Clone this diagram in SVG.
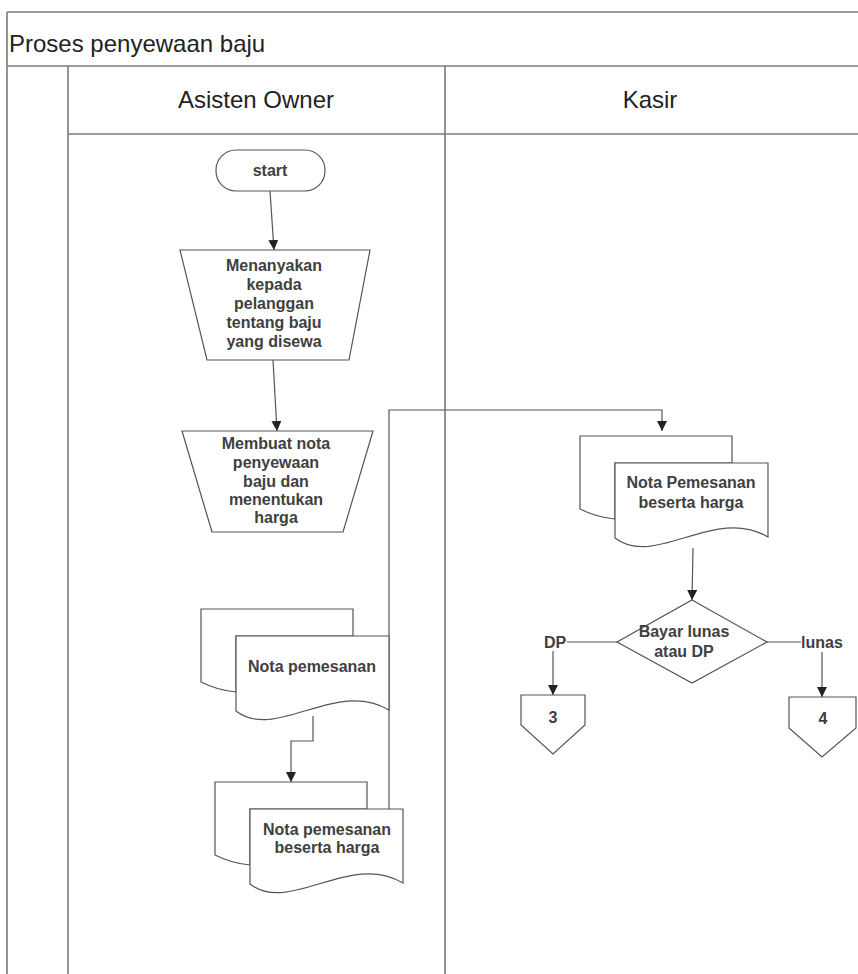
<svg xmlns="http://www.w3.org/2000/svg" xmlns:xlink="http://www.w3.org/1999/xlink" width="858" height="974" viewBox="0 0 858 974">
<style>
.frame{stroke:#7a7a7a;stroke-width:1.6;fill:none}
.shape{stroke:#555;stroke-width:1.2;fill:#fff}
.conn{stroke:#555;stroke-width:1.2;fill:none}
.t{font-family:"Liberation Sans",Arial,sans-serif;font-size:16px;font-weight:bold;fill:#404040;text-anchor:middle}
.h{font-family:"Liberation Sans",Arial,sans-serif;font-size:24px;fill:#222}
</style>
<defs>
<marker id="arr" viewBox="0 0 10 10" refX="10" refY="5" markerWidth="10" markerHeight="10" markerUnits="userSpaceOnUse" orient="auto">
<path d="M0,0 L10,5 L0,10 Z" fill="#222"/>
</marker>
<path id="docBack" d="M-35,-27 H117 V0 H0 V56 C-12,55 -25,51 -35,46 Z"/>
<path id="docFront" d="M0,0 H153 V74 C100,42 40,106 0,75 Z"/>
</defs>
<rect width="858" height="974" fill="#fff"/>

<g id="frame">
<line class="frame" x1="7" y1="12" x2="858" y2="12"/>
<line class="frame" x1="7" y1="12" x2="7" y2="974"/>
<line class="frame" x1="7" y1="66" x2="858" y2="66"/>
<line class="frame" x1="68" y1="66" x2="68" y2="974"/>
<line class="frame" x1="68" y1="134" x2="858" y2="134"/>
<line class="frame" x1="445" y1="66" x2="445" y2="974"/>
<text class="h" x="9" y="52">Proses penyewaan baju</text>
<text class="h" x="256" y="108" text-anchor="middle">Asisten Owner</text>
<text class="h" x="650" y="108" text-anchor="middle">Kasir</text>
</g>

<g id="connectors">
<line class="conn" x1="270" y1="191" x2="274" y2="250" marker-end="url(#arr)"/>
<line class="conn" x1="273" y1="360" x2="277" y2="431" marker-end="url(#arr)"/>
<polyline class="conn" points="313,716 313,741 291,741 291,782" marker-end="url(#arr)"/>
<polyline class="conn" points="389,809 389,410 662,410 662,431" marker-end="url(#arr)"/>
<line class="conn" x1="693" y1="548" x2="692" y2="600" marker-end="url(#arr)"/>
<line class="conn" x1="617" y1="642" x2="567" y2="642"/>
<line class="conn" x1="553" y1="651" x2="553" y2="695" marker-end="url(#arr)"/>
<line class="conn" x1="767" y1="642" x2="801" y2="642"/>
<line class="conn" x1="822" y1="652" x2="822" y2="697" marker-end="url(#arr)"/>
<text class="t" x="555" y="648">DP</text>
<text class="t" x="822" y="648">lunas</text>
</g>

<g id="start">
<rect class="shape" x="216" y="150" width="109" height="41" rx="20" ry="20"/>
<text class="t" x="270" y="176">start</text>
</g>

<g id="tanya">
<polygon class="shape" points="180,250 370,250 349,360 207,360"/>
<text class="t" x="274" y="271">Menanyakan</text>
<text class="t" x="274" y="290">kepada</text>
<text class="t" x="274" y="309">pelanggan</text>
<text class="t" x="274" y="328">tentang baju</text>
<text class="t" x="274" y="347">yang disewa</text>
</g>

<g id="buatnota">
<polygon class="shape" points="182,431 373,431 343,532 212,532"/>
<text class="t" x="276" y="449">Membuat nota</text>
<text class="t" x="276" y="468">penyewaan</text>
<text class="t" x="276" y="487">baju dan</text>
<text class="t" x="276" y="505">menentukan</text>
<text class="t" x="276" y="523">harga</text>
</g>

<g id="notapemesanan">
<use xlink:href="#docBack" class="shape" transform="translate(236,636)"/>
<use xlink:href="#docFront" class="shape" transform="translate(236,636)"/>
<text class="t" x="312" y="672">Nota pemesanan</text>
</g>

<g id="notaharga">
<use xlink:href="#docBack" class="shape" transform="translate(250,809)"/>
<use xlink:href="#docFront" class="shape" transform="translate(250,809)"/>
<text class="t" x="327" y="835">Nota pemesanan</text>
<text class="t" x="327" y="853">beserta harga</text>
</g>

<g id="kasirnota">
<use xlink:href="#docBack" class="shape" transform="translate(615,463)"/>
<use xlink:href="#docFront" class="shape" transform="translate(615,463)"/>
<text class="t" x="691" y="488">Nota Pemesanan</text>
<text class="t" x="691" y="508">beserta harga</text>
</g>

<g id="keputusan">
<polygon class="shape" points="692,600 767,642 692,683 617,642"/>
<text class="t" x="684" y="637">Bayar lunas</text>
<text class="t" x="684" y="657">atau DP</text>
</g>

<g id="off3">
<polygon class="shape" points="521,695 585,695 585,725 553,754 521,725"/>
<text class="t" x="553" y="723">3</text>
</g>

<g id="off4">
<polygon class="shape" points="789,697 856,697 856,728 822,757 789,728"/>
<text class="t" x="823" y="724">4</text>
</g>
</svg>
